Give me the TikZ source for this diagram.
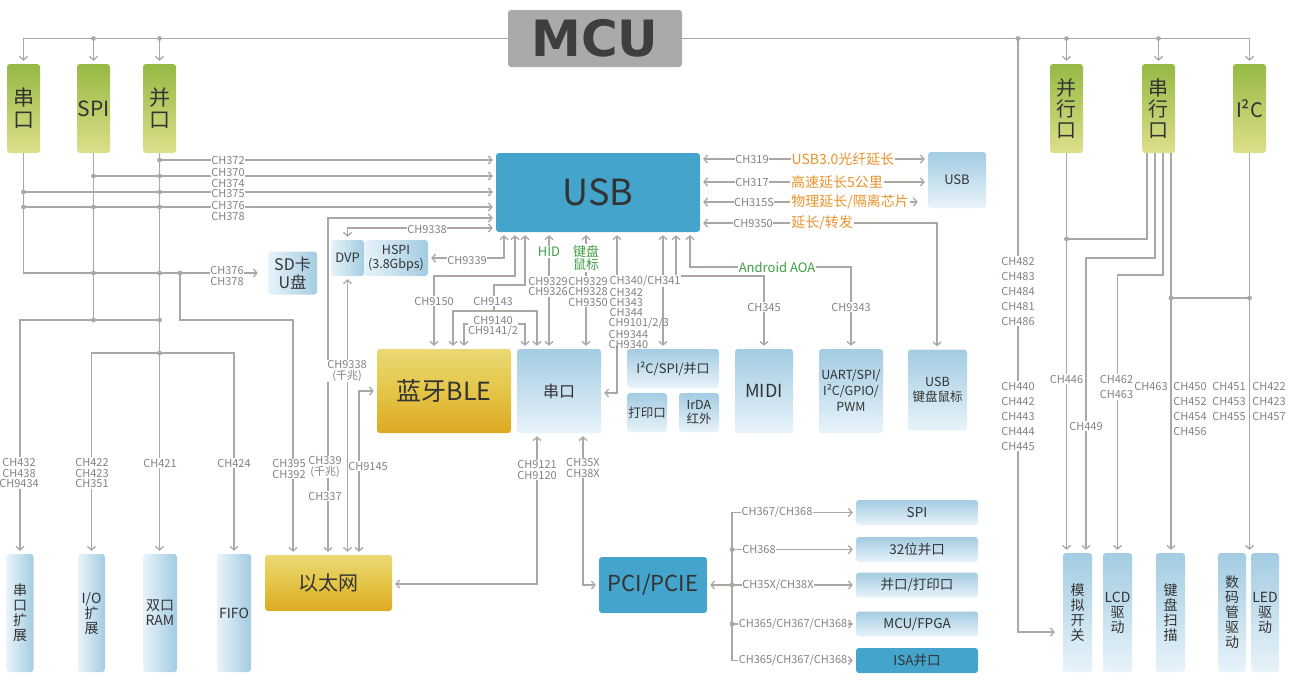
\documentclass[tikz,border=0pt]{standalone}
\usepackage{fontspec}
\setmainfont{Noto Sans CJK SC}
\newfontfamily\mcufont{DejaVu Sans}
\usetikzlibrary{arrows.meta}
\definecolor{lc}{HTML}{ABA7A3}
\definecolor{lt}{HTML}{88817C}
\definecolor{bdark}{HTML}{A3CCE2}
\definecolor{blight}{HTML}{E8F3FA}
\definecolor{usbblue}{HTML}{45A4CB}
\definecolor{gtop}{HTML}{96B944}
\definecolor{gbot}{HTML}{DEDF8B}
\definecolor{orng}{HTML}{E8932C}
\definecolor{grn}{HTML}{3DA043}
\definecolor{txt}{HTML}{333333}
\definecolor{ytop}{HTML}{EBD874}
\definecolor{ymid}{HTML}{E4C547}
\definecolor{ybot}{HTML}{DDA922}
\definecolor{mcugray}{HTML}{ABA9A9}
\definecolor{mcutxt}{HTML}{403E3C}
\begin{document}
\begin{tikzpicture}[x=1pt,y=-1pt,
 ln/.style={draw=lc, line width=1.3pt},
 arr/.style={ln, -{Straight Barb[length=3.5pt,width=8pt]}, shorten >=3pt},
 darr/.style={ln, {Straight Barb[length=3.5pt,width=8pt]}-{Straight Barb[length=3.5pt,width=8pt]}, shorten >=3pt, shorten <=3pt},
 sz/.style 2 args={minimum width=#1pt, minimum height=#2pt},
 box/.style={rounded corners=3pt, inner sep=0pt, text=txt, align=center},
 gbox/.style={box, top color=gtop, bottom color=gbot, font=\fontsize{21}{22}\selectfont},
 bv/.style={box, top color=bdark, bottom color=blight},
 bh/.style={box, left color=blight, right color=bdark},
 dbox/.style={box, fill=usbblue},
 ybox/.style={box, top color=ytop, bottom color=ybot, middle color=ymid},
 f/.style={font=\fontsize{#1}{#1}\selectfont},
 vtxt/.style={font=\fontsize{14}{15}\selectfont},
 lab/.style={fill=white, inner xsep=0.5pt, inner ysep=1pt, text=lt, align=center, font=\fontsize{11}{10.5}\selectfont},
 labw/.style={lab, font=\fontsize{11}{15}\selectfont},
 org/.style={fill=white, inner sep=1pt, text=orng, font=\fontsize{14}{14}\selectfont},
 grl/.style={fill=white, inner sep=1pt, text=grn, align=center, font=\fontsize{13}{13.5}\selectfont},
 dotc/.style={fill=lc}
]
\useasboundingbox (0,0) rectangle (1290,689);

% ---------- boxes ----------
\node[box, fill=mcugray, sz={174}{57}] (mcu) at (595,38.5) {\mcufont\bfseries\fontsize{50}{50}\selectfont\color{mcutxt}MCU};
\node[gbox, sz={33}{89}] (g1) at (23.5,108.5) {串\\口};
\node[gbox, sz={33}{89}] (g2) at (93.5,108.5) {SPI};
\node[gbox, sz={33}{89}] (g3) at (159.5,108.5) {并\\口};
\node[gbox, sz={33}{89}, font=\fontsize{20}{21}\selectfont] (g4) at (1066.5,108.5) {并\\行\\口};
\node[gbox, sz={33}{89}, font=\fontsize{20}{21}\selectfont] (g5) at (1158.5,108.5) {串\\行\\口};
\node[gbox, sz={33}{89}, font=\fontsize{20}{21}\selectfont] (g6) at (1249.5,108.5) {I²C};

\node[dbox, sz={204}{79}, f=36] (usb) at (598,192.5) {USB};
\node[bv, sz={58}{56}, f=13] (usb2) at (957,180) {USB};
\node[bh, sz={49}{43}, font=\fontsize{16}{18}\selectfont] (sd) at (292.5,273) {SD卡\\U盘};
\node[bh, sz={33}{36}, f=13] (dvp) at (347.5,258) {DVP};
\node[bh, sz={64}{36}, font=\fontsize{12.5}{14}\selectfont] (hspi) at (396,258) {HSPI\\(3.8Gbps)};
\node[ybox, sz={134}{84}, f=25] (ble) at (444,391) {蓝牙BLE};
\node[bv, sz={84}{84}, f=16] (uart0) at (559,391) {串口};
\node[bv, sz={92}{39}, f=13] (i2c) at (673,368.5) {I²C/SPI/并口};
\node[bv, sz={40}{39}, f=12.5] (prn) at (647,412.5) {打印口};
\node[bv, sz={40}{39}, font=\fontsize{12.5}{14}\selectfont] (irda) at (699,412.5) {IrDA\\红外};
\node[bv, sz={58}{84}, f=18] (midi) at (764,391) {MIDI};
\node[bv, sz={64}{84}, font=\fontsize{12.5}{16}\selectfont] (uartspi) at (851,391) {UART/SPI/\\I²C/GPIO/\\PWM};
\node[bv, sz={59}{81}, font=\fontsize{12.5}{15}\selectfont] (usbkb) at (937.5,390) {USB\\键盘鼠标};
\node[ybox, sz={127}{56}, f=20] (eth) at (328.5,583) {以太网};
\node[dbox, sz={108}{56}, f=22] (pci) at (653,585) {PCI/PCIE};
\node[bv, sz={122}{25}, f=13.5] (pspi) at (917,512.5) {SPI};
\node[bv, sz={122}{25}, f=13.5] (p32) at (917,549.5) {32位并口};
\node[bv, sz={122}{25}, f=13.5] (ppr) at (917,585) {并口/打印口};
\node[bv, sz={122}{25}, f=13.5] (pfpga) at (917,624) {MCU/FPGA};
\node[dbox, sz={122}{25}, f=13.5] (pisa) at (917,660.5) {ISA并口};

\node[bh, sz={27}{118}, vtxt] (serext) at (20,613) {串\\口\\扩\\展};
\node[bh, sz={27}{118}, vtxt] (io) at (91.5,613) {I/O\\扩\\展};
\node[bh, sz={34}{118}, vtxt] (ram) at (160,613) {双口\\RAM};
\node[bh, sz={34}{118}, vtxt] (fifo) at (234,613) {FIFO};
\node[bv, sz={29}{119}, vtxt] (sw) at (1077.5,612.5) {模\\拟\\开\\关};
\node[bv, sz={29}{119}, vtxt] (lcd) at (1117.5,612.5) {LCD\\驱\\动};
\node[bv, sz={29}{119}, vtxt] (kb) at (1170.5,612.5) {键\\盘\\扫\\描};
\node[bv, sz={28}{119}, vtxt] (seg) at (1232,612.5) {数\\码\\管\\驱\\动};
\node[bv, sz={28}{119}, vtxt] (led) at (1265,612.5) {LED\\驱\\动};

% ---------- connectors: MCU bus ----------
\draw[arr] (mcu.west) -| (g1.north);
\draw[arr] (g2.north |- mcu.west) -- (g2.north);
\draw[arr] (g3.north |- mcu.west) -- (g3.north);
\draw[arr] (mcu.east) -| (g6.north);
\draw[arr] (g4.north |- mcu.east) -- (g4.north);
\draw[arr] (g5.north |- mcu.east) -- (g5.north);
\coordinate (m485) at (1018,38.5);
\draw[arr, shorten >=8pt] (m485) |- (sw.west |- 0,632);

% ---------- left side ----------
\draw[arr, shorten >=10pt] (g1.south) |- (sd.west);
\draw[ln] (g2.south) -- (g2.south |- 0,320);
\draw[arr] (g3.south) -- (g3.south |- ram.north);
\draw[arr] (g3.south |- 0,320) -| (serext.north);
\draw[arr] (g3.south |- 0,353) -| (io.north);
\draw[arr] (g3.south |- 0,353) -| (fifo.north);
\draw[arr] (g3.south |- 0,160) -- (usb.west |- 0,160);
\draw[arr] (g2.south |- 0,176) -- (usb.west |- 0,176);
\draw[arr] (g1.south |- 0,192) -- (usb.west |- 0,192);
\draw[arr] (g1.south |- 0,207) -- (usb.west |- 0,207);
\coordinate (j180) at (180,273);
\draw[arr] (j180) |- (293,320) -- (eth.north -| 293,0);
\draw[darr] (usb.west |- 0,218) -| (eth.north -| 328,0);
\draw[darr] (dvp.north) |- (usb.west |- 0,228);
\draw[darr] (dvp.south) -- (eth.north -| dvp.south);
\draw[darr] (eth.north -| 359,0) |- (ble.west);

% ---------- USB bottom ----------
\draw[darr] (usb.south -| 504,0) |- (hspi.east);
\draw[darr] (usb.south -| 515,0) |- (434,276) -- (ble.north -| 434,0);
\draw[darr] (usb.south -| 525,0) |- (494,285) -- (494,311) -| (ble.north -| 453,0);
\draw[arr] (494,311) -| (uart0.north -| 537,0);
\draw[darr] (ble.north -| 464,0) |- (525,324) -- (uart0.north -| 525,0);
\draw[darr] (usb.south -| 549,0) -- (uart0.north -| 549,0);
\draw[darr] (usb.south -| 586,0) -- (uart0.north -| 586,0);
\draw[darr] (usb.south -| 617,0) |- (uart0.east |- 0,393);
\draw[darr] (usb.south -| 663,0) -- (i2c.north -| 663,0);
\draw[darr] (usb.south -| 676,0) |- (764,276) -- (midi.north);
\draw[darr] (usb.south -| 690,0) |- (851,267) -- (uartspi.north);

% ---------- USB right ----------
\draw[darr] (usb.east |- 0,159) -- (usb2.west |- 0,159);
\draw[darr] (usb.east |- 0,182) -- (usb2.west |- 0,182);
\draw[darr, shorten >=10pt] (usb.east |- 0,202) -- (usb2.west |- 0,202);
\draw[darr] (usb.east |- 0,223) -| (usbkb.north -| 937,0);

% ---------- bottom ----------
\draw[darr] (uart0.south -| 537,0) |- (eth.east |- 0,584);
\draw[darr] (uart0.south -| 583,0) |- (pci.west);
\coordinate (bus) at (732,585);
\draw[darr] (pci.east) -- (bus) -- (ppr.west);
\draw[arr] (bus) |- (pspi.west);
\draw[arr] (bus) |- (pisa.west);
\draw[arr] (bus |- p32.west) -- (p32.west);
\draw[arr] (bus |- pfpga.west) -- (pfpga.west);

% ---------- right side ----------
\draw[arr] (g4.south) -- (g4.south |- sw.north);
\draw[ln] (g5.south -| 1147,0) |- (g4.south |- 0,239);
\draw[arr] (g5.south -| 1155,0) |- (1086,258) -- (sw.north -| 1086,0);
\draw[arr] (g5.south -| 1163,0) |- (lcd.north |- 0,275) -- (lcd.north);
\draw[arr] (g5.south -| 1171,0) -- (kb.north -| 1171,0);
\draw[arr] (g6.south) -- (g6.south |- seg.north);
\draw[ln] (g5.south |- 0,298) ++(12.5,0) -- (g6.south |- 0,298);

% ---------- dots ----------
\foreach \p in {(93.5,38.5),(159.5,38.5),(1066.5,38.5),(1158.5,38.5),(1018,38.5),
  (159.5,160),(93.5,176),(159.5,176),(23.5,192),(159.5,192),(23.5,207),(93.5,207),(159.5,207),
  (93.5,273),(159.5,273),(180,273),(93.5,320),(159.5,320),(159.5,353),
  (732,549.5),(732,585),(732,624),(1066.5,239),(1171,298),(1249.5,298)}
  \fill[dotc] \p circle (2.4pt);

% ---------- labels ----------
\node[lab] (t372) at (228,160) {CH372};
\node[lab] (t370) at (228,178) {CH370\\CH374};
\node[lab] (t375) at (228,193) {CH375};
\node[lab] (t376) at (228,211) {CH376\\CH378};
\node[lab] (t9338a) at (427,229) {CH9338};
\node[lab] (t9339) at (467,260) {CH9339};
\node[lab] (tsd) at (227,276) {CH376\\CH378};
\node[lab] (t9150) at (434,301) {CH9150};
\node[lab] (t9143) at (493,301) {CH9143};
\node[lab] (t9140) at (493,326.5) {CH9140\\CH9141/2};
\node[grl] (thid) at (549,252) {HID};
\node[grl] (tkm) at (586,258) {键盘\\鼠标};
\node[lab] (t9329a) at (548,286.5) {CH9329\\CH9326};
\node[lab] (t9329b) at (588,291.5) {CH9329\\CH9328\\CH9350};
\node[lab, anchor=west] (t340) at (609,281) {CH340/CH341};
\fill[white] (607,287) rectangle (645,346);
\node[lab, fill=none, anchor=north west, align=left, font=\fontsize{11}{10}\selectfont] (t342) at (608,287.5) {\hspace*{1pt}CH342\\\hspace*{1pt}CH343\\\hspace*{1pt}CH344\\CH9101/2/3\\CH9344\\CH9340};
\node[grl] (taoa) at (777,267) {Android AOA};
\node[lab] (t345) at (764,307) {CH345};
\node[lab] (t9343) at (851,307) {CH9343};
\node[lab] (t319) at (752,159) {CH319};
\node[org] (o319) at (843,159) {USB3.0光纤延长};
\node[lab] (t317) at (752,182) {CH317};
\node[org] (o317) at (837,182) {高速延长5公里};
\node[lab] (t315) at (754,202) {CH315S};
\node[org] (o315) at (850,202) {物理延长/隔离芯片};
\node[lab] (t9350) at (753,223) {CH9350};
\node[org] (o9350) at (822,223) {延长/转发};
\node[lab] (t9338b) at (347,371) {CH9338\\(千兆)};
\node[lab] (t339) at (325,467) {CH339\\(千兆)};
\node[lab] (t337) at (325,496) {CH337};
\node[lab] (t9145) at (368,466) {CH9145};
\node[lab] (t395) at (289,469) {CH395\\CH392};
\node[lab] (t432) at (19,473) {CH432\\CH438\\CH9434};
\node[lab] (t422) at (92,473) {CH422\\CH423\\CH351};
\node[lab] (t421) at (160,463) {CH421};
\node[lab] (t424) at (234,463) {CH424};
\node[lab] (t9121) at (537,470) {CH9121\\CH9120};
\node[lab] (t35x) at (583,468) {CH35X\\CH38X};
\node[lab] (tp1) at (777,512.5) {CH367/CH368};
\node[lab] (tp2) at (759,549.5) {CH368};
\node[lab] (tp3) at (778,585) {CH35X/CH38X};
\node[lab] (tp4) at (793,624) {CH365/CH367/CH368};
\node[lab] (tp5) at (793,660.5) {CH365/CH367/CH368};
\node[labw] (t482) at (1018,291) {CH482\\CH483\\CH484\\CH481\\CH486};
\node[labw] (t440) at (1018,416) {CH440\\CH442\\CH443\\CH444\\CH445};
\node[labw] (t446) at (1066.5,379) {CH446};
\node[labw] (t449) at (1086,426) {CH449};
\node[labw] (t462) at (1116.5,387) {CH462\\CH463};
\node[labw] (t463) at (1151,386) {CH463};
\node[labw] (t450) at (1190,408.5) {CH450\\CH452\\CH454\\CH456};
\node[labw] (t451) at (1229,401) {CH451\\CH453\\CH455};
\node[labw] (t422r) at (1269,401) {CH422\\CH423\\CH457};
\end{tikzpicture}
\end{document}
